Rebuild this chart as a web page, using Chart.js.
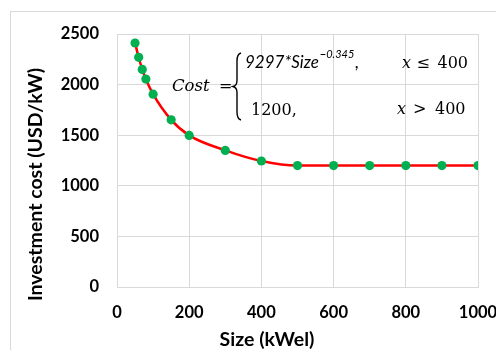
<!DOCTYPE html>
<html><head><meta charset="utf-8">
<script src="https://cdn.jsdelivr.net/npm/chart.js@4"></script>
<style>html,body{margin:0;padding:0;background:#fff}#wrap{position:relative;width:496px;height:350px}</style>
</head><body><div id="wrap"><canvas id="c" width="496" height="350"></canvas></div>
<script>
const sizes = [50, 60, 70, 80, 100, 150, 200, 300, 400, 500, 600, 700, 800, 900, 1000];
const costs = [2411, 2270, 2150, 2055, 1905, 1652, 1498, 1350, 1245, 1200, 1200, 1200, 1200, 1200, 1200];
const xTicks = [0, 200, 400, 600, 800, 1000];
const yTicks = [0, 500, 1000, 1500, 2000, 2500];
const xTitle = 'Size (kWel)';
const yTitle = 'Investment cost (USD/kW)';

const GRID = '#d9d9d9';
const tickFont = {family: 'Lato', size: 16.5, weight: 'bold'};

const decor = {
  id: 'decor',
  beforeDraw(chart) {
    const ctx = chart.ctx;
    ctx.save();
    ctx.fillStyle = '#fff';
    ctx.fillRect(0, 0, chart.width, chart.height);
    ctx.strokeStyle = GRID;
    ctx.lineWidth = 1;
    ctx.strokeRect(10.5, 11.5, 520, 400);
    ctx.restore();
  },
  afterDraw(chart) {
    const ctx = chart.ctx;
    const a = chart.chartArea;
    const L = a.left, T = a.top;
    ctx.save();
    ctx.fillStyle = '#000';
    // axis titles
    ctx.font = 'bold 19.5px Lato';
    ctx.textAlign = 'center';
    ctx.textBaseline = 'middle';
    ctx.fillText(xTitle, 267, 339.5);
    ctx.save();
    ctx.translate(35.5, 184.5);
    ctx.rotate(-Math.PI / 2);
    ctx.fillText(yTitle, 0, 0);
    ctx.restore();
    // equation
    ctx.textAlign = 'left';
    ctx.textBaseline = 'alphabetic';
    ctx.font = 'italic 16.5px "DejaVu Serif"';
    ctx.fillText('Cost', L + 55, T + 56.5);
    ctx.font = '16px "DejaVu Serif"';
    ctx.fillText('=', L + 102, T + 56.5);
    // brace
    ctx.strokeStyle = '#000';
    ctx.lineWidth = 1.4;
    const bx = L + 119, by0 = T + 19, by1 = T + 86, bm = T + 52.5;
    ctx.beginPath();
    ctx.moveTo(bx + 5, by0);
    ctx.quadraticCurveTo(bx + 1, by0 + 1, bx + 1, by0 + 8);
    ctx.lineTo(bx + 1, bm - 6);
    ctx.quadraticCurveTo(bx + 1, bm - 1, bx - 3, bm);
    ctx.quadraticCurveTo(bx + 1, bm + 1, bx + 1, bm + 6);
    ctx.lineTo(bx + 1, by1 - 8);
    ctx.quadraticCurveTo(bx + 1, by1 - 1, bx + 5, by1);
    ctx.stroke();
    // first row
    ctx.font = 'italic 17px Lato';
    const t1 = '9297*Size';
    const x1 = L + 128;
    ctx.fillText(t1, x1, T + 34.3);
    const x2 = x1 + ctx.measureText(t1).width + 1;
    ctx.font = 'italic 11px Lato';
    const t2 = '\u22120.345';
    ctx.fillText(t2, x2, T + 23.7);
    const x3 = x2 + ctx.measureText(t2).width + 1;
    ctx.font = 'italic 17px Lato';
    ctx.fillText(',', x3, T + 34.3);
    ctx.font = 'italic 16px "DejaVu Serif"';
    ctx.fillText('x', L + 285, T + 33.7);
    ctx.font = '16px "DejaVu Serif"';
    ctx.fillText('\u2264', L + 299.5, T + 33.7);
    ctx.fillText('400', L + 320.5, T + 33.7);
    // second row
    ctx.fillText('1200,', L + 134, T + 81);
    ctx.font = 'italic 16px "DejaVu Serif"';
    ctx.fillText('x', L + 280, T + 80);
    ctx.font = '16px "DejaVu Serif"';
    ctx.fillText('>', L + 296, T + 80);
    ctx.fillText('400', L + 318, T + 80);
    ctx.restore();
  }
};

new Chart(document.getElementById('c'), {
  type: 'scatter',
  data: {
    datasets: [{
      data: sizes.map((s, i) => ({x: s, y: costs[i]})),
      showLine: true,
      borderColor: '#FF0000',
      borderWidth: 2.5,
      cubicInterpolationMode: 'monotone',
      pointBackgroundColor: '#00B050',
      pointBorderColor: '#00B050',
      pointBorderWidth: 0,
      pointRadius: 4.6,
      pointHoverRadius: 4.6
    }]
  },
  options: {
    responsive: false,
    devicePixelRatio: 1,
    animation: false,
    events: [],
    layout: {padding: {left: 0, top: 34, right: 18, bottom: 0}},
    plugins: {legend: {display: false}, tooltip: {enabled: false}},
    scales: {
      x: {
        type: 'linear', min: 0, max: 1000,
        afterBuildTicks: s => { s.ticks = xTicks.map(v => ({value: v})); },
        afterFit: s => { s.height = 63; s.paddingLeft = 0; s.paddingRight = 0; },
        grid: {color: GRID, lineWidth: 1, drawTicks: false},
        border: {color: GRID, width: 1},
        ticks: {font: tickFont, color: '#000', padding: 16, maxRotation: 0, callback: v => String(v)}
      },
      y: {
        type: 'linear', min: 0, max: 2500,
        afterBuildTicks: s => { s.ticks = yTicks.map(v => ({value: v})); },
        afterFit: s => { s.width = 117; s.paddingTop = 0; s.paddingBottom = 0; },
        grid: {color: GRID, lineWidth: 1, drawTicks: false},
        border: {color: GRID, width: 1},
        ticks: {font: tickFont, color: '#000', padding: 18, callback: v => String(v)}
      }
    }
  },
  plugins: [decor]
});
</script></body></html>
